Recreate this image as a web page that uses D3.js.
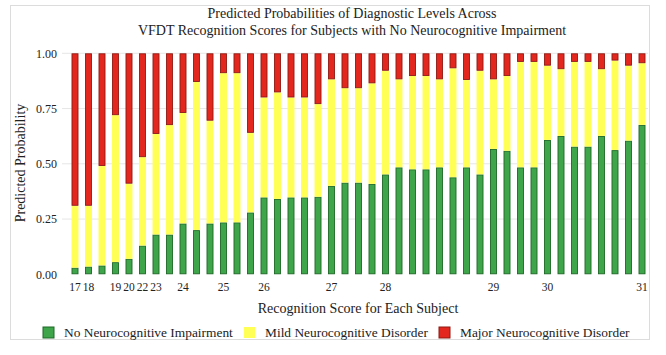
<!DOCTYPE html>
<html>
<head>
<meta charset="utf-8">
<script src="https://cdn.jsdelivr.net/npm/d3@7"></script>
<style>
  html, body { margin: 0; padding: 0; background: #fff; }
</style>
</head>
<body>
<div id="chart"></div>
<script>
// recognition score of each subject, in bar order
const SCORES = [17, 18, 18, 19, 20, 22, 23, 23, 24, 24, 24, 25, 25, 25,
  26, 26, 26, 26, 26, 27, 27, 27, 27, 28, 28, 28, 28, 28, 28, 28, 28,
  29, 29, 29, 29, 30, 30, 30, 30, 30, 30, 30, 31];

const NO_IMPAIRMENT = [0.03, 0.035, 0.04, 0.055, 0.07, 0.13, 0.18, 0.18, 0.23, 0.20, 0.23, 0.235, 0.235, 0.28,
  0.348, 0.341, 0.348, 0.348, 0.351, 0.40, 0.415, 0.415, 0.409, 0.452, 0.484, 0.475, 0.475, 0.484,
  0.439, 0.484, 0.452, 0.567, 0.559, 0.484, 0.484, 0.608, 0.626, 0.578, 0.578, 0.626, 0.562, 0.605, 0.676];

const MILD = [0.28, 0.275, 0.45, 0.665, 0.34, 0.40, 0.455, 0.495, 0.50, 0.67, 0.465, 0.675, 0.675, 0.36,
  0.452, 0.482, 0.452, 0.452, 0.419, 0.482, 0.427, 0.427, 0.455, 0.469, 0.398, 0.422, 0.422, 0.398,
  0.493, 0.395, 0.469, 0.315, 0.338, 0.477, 0.477, 0.336, 0.302, 0.383, 0.383, 0.302, 0.405, 0.339, 0.279];

const MAJOR = [0.69, 0.69, 0.51, 0.28, 0.59, 0.47, 0.365, 0.325, 0.27, 0.13, 0.305, 0.09, 0.09, 0.36,
  0.20, 0.177, 0.20, 0.20, 0.23, 0.118, 0.158, 0.158, 0.136, 0.079, 0.118, 0.103, 0.103, 0.118,
  0.068, 0.121, 0.079, 0.118, 0.103, 0.039, 0.039, 0.056, 0.072, 0.039, 0.039, 0.072, 0.033, 0.056, 0.045];

const LEVELS = ["No Neurocognitive Impairment", "Mild Neurocognitive Disorder", "Major Neurocognitive Disorder"];
const Y_TICKS = [0, 0.25, 0.5, 0.75, 1];

const width = 666, height = 355;
const FONT = "'Liberation Serif', 'Times New Roman', 'DejaVu Serif', serif";
const fills = ["#3fa54a", "#ffff55", "#e3261e"];
const strokes = ["#1d6826", "#ffff55", "#8e1a12"];

const rows = SCORES.map((s, i) => ({
  id: i + 1, score: s,
  [LEVELS[0]]: NO_IMPAIRMENT[i], [LEVELS[1]]: MILD[i], [LEVELS[2]]: MAJOR[i]
}));

const svg = d3.select("#chart").append("svg")
  .attr("width", width)
  .attr("height", height)
  .attr("font-family", FONT)
  .style("font-family", FONT);

svg.append("rect")
  .attr("width", width).attr("height", height).attr("fill", "#fff");

// light frame around the figure
svg.append("rect")
  .attr("x", 10.5).attr("y", 5.5)
  .attr("width", 639).attr("height", 334)
  .attr("fill", "none")
  .attr("stroke", "#dcdcdc");

const x = d3.scaleBand()
  .domain(rows.map(d => d.id))
  .range([68.25, 648.75])
  .paddingInner(0.48)
  .paddingOuter(0.24);

const y = d3.scaleLinear().domain([0, 1]).range([274.3, 53.3]);

// grid
svg.append("g")
  .selectAll("line")
  .data(Y_TICKS.filter(d => d > 0))
  .join("line")
  .attr("x1", 62).attr("x2", 648)
  .attr("y1", d => y(d)).attr("y2", d => y(d))
  .attr("stroke", "#e6e6e6");

const series = d3.stack().keys(LEVELS)(rows);

svg.append("g")
  .selectAll("g")
  .data(series)
  .join("g")
  .attr("fill", (d, i) => fills[i])
  .attr("stroke", (d, i) => strokes[i])
  .attr("stroke-width", 0.9)
  .selectAll("rect")
  .data(d => d)
  .join("rect")
  .attr("x", d => x(d.data.id) + 0.5)
  .attr("width", x.bandwidth() - 1)
  .attr("y", d => y(d[1]) + 0.5)
  .attr("height", d => Math.max(0, y(d[0]) - y(d[1]) - 1));

// axes
const firstOfScore = new Set(rows.filter((d, i) => i === 0 || SCORES[i - 1] !== d.score).map(d => d.id));

svg.append("g")
  .attr("transform", "translate(0,274.3)")
  .call(d3.axisBottom(x).tickSize(0).tickPadding(9)
    .tickFormat(id => firstOfScore.has(id) ? SCORES[id - 1] : ""))
  .call(g => g.select(".domain").remove())
  .attr("font-family", FONT)
  .attr("font-size", 11.5)
  .call(g => g.selectAll("text").attr("fill", "#222"));

svg.append("g")
  .attr("transform", "translate(62,0)")
  .call(d3.axisLeft(y).tickValues(Y_TICKS).tickSize(0).tickPadding(5).tickFormat(d3.format(".2f")))
  .call(g => g.select(".domain").remove())
  .attr("font-family", FONT)
  .attr("font-size", 12)
  .call(g => g.selectAll("text").attr("fill", "#222"));

// titles
const title = svg.append("text")
  .attr("x", 352)
  .attr("text-anchor", "middle")
  .attr("font-size", 14)
  .attr("fill", "#222");
title.append("tspan").attr("x", 352).attr("y", 18).text("Predicted Probabilities of Diagnostic Levels Across");
title.append("tspan").attr("x", 352).attr("y", 35).text("VFDT Recognition Scores for Subjects with No Neurocognitive Impairment");

svg.append("text")
  .attr("x", 358).attr("y", 313)
  .attr("text-anchor", "middle")
  .attr("font-size", 14)
  .attr("fill", "#222")
  .text("Recognition Score for Each Subject");

svg.append("text")
  .attr("transform", "translate(25,163) rotate(-90)")
  .attr("text-anchor", "middle")
  .attr("font-size", 14)
  .attr("fill", "#222")
  .text("Predicted Probability");

// legend
const legendX = [43, 244, 439];
const legend = svg.append("g")
  .selectAll("g")
  .data(LEVELS)
  .join("g")
  .attr("transform", (d, i) => `translate(${legendX[i]},327)`);

legend.append("rect")
  .attr("width", 11).attr("height", 11)
  .attr("fill", (d, i) => fills[i])
  .attr("stroke", (d, i) => i === 1 ? "none" : strokes[i]);

legend.append("text")
  .attr("x", 21).attr("y", 10)
  .attr("font-size", 13.4)
  .attr("fill", "#222")
  .text(d => d);
</script>
</body>
</html>
